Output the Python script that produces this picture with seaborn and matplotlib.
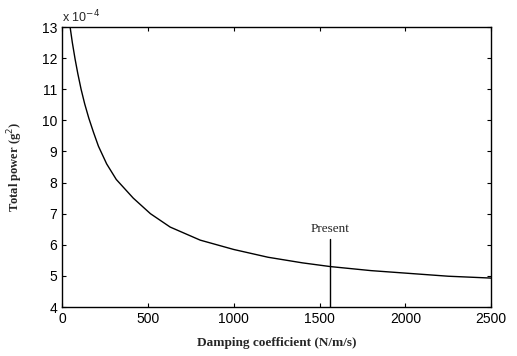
import matplotlib
matplotlib.use("Agg")
import matplotlib.pyplot as plt
import seaborn as sns
import pandas as pd

# Data (total power in units of 1e-4 g^2)
damping = [40, 47, 60, 76, 92, 111, 132, 156, 183, 212, 260, 316, 415, 515,
           630, 805, 1000, 1200, 1400, 1563, 1800, 2000, 2250, 2500]
power = [13.29, 13.0, 12.5, 11.97, 11.5, 11.0, 10.53, 10.07, 9.62, 9.17,
         8.6, 8.1, 7.5, 7.0, 6.57, 6.15, 5.85, 5.6, 5.42, 5.3, 5.17, 5.09,
         4.99, 4.93]
present_c = 1563
present_label = "Present"
xticks = [0, 500, 1000, 1500, 2000, 2500]
yticks = [4, 5, 6, 7, 8, 9, 10, 11, 12, 13]

sns.set_style("ticks")
plt.rcParams['font.family'] = ['Liberation Sans', 'DejaVu Sans']

df = pd.DataFrame({"c": damping, "p": power})

fig = plt.figure(figsize=(5.17, 3.56), dpi=100)
ax = fig.add_axes([0.12, 0.1376, 0.83, 0.7864])
sns.lineplot(data=df, x="c", y="p", ax=ax, color="black", linewidth=1.0)

ax.set_xlim(0, 2500)
ax.set_ylim(4, 13)
ax.set_xticks(xticks)
ax.set_yticks(yticks)
ax.tick_params(direction="in", length=3, width=0.8, labelsize=10,
               top=True, right=True, colors="black")
for s in ax.spines.values():
    s.set_visible(True)
    s.set_linewidth(1.0)
    s.set_color("black")

# Present marker
ax.plot([present_c, present_c], [4, 6.2], color="black", linewidth=1.0)
ax.text(present_c, 6.3, present_label, ha="center", va="bottom",
        fontfamily="Liberation Serif", fontsize=9.5)

ax.text(0, 13.05, "x 10$^{-4}$", ha="left", va="bottom", fontsize=9)

ax.set_xlabel("Damping coefficient (N/m/s)", fontfamily="Liberation Serif",
              fontweight="bold", fontsize=9.5, labelpad=8)
ax.set_ylabel("Total power (g$^2$)", fontfamily="Liberation Serif",
              fontweight="bold", fontsize=9, labelpad=12)

fig.savefig("out.png", dpi=100)
